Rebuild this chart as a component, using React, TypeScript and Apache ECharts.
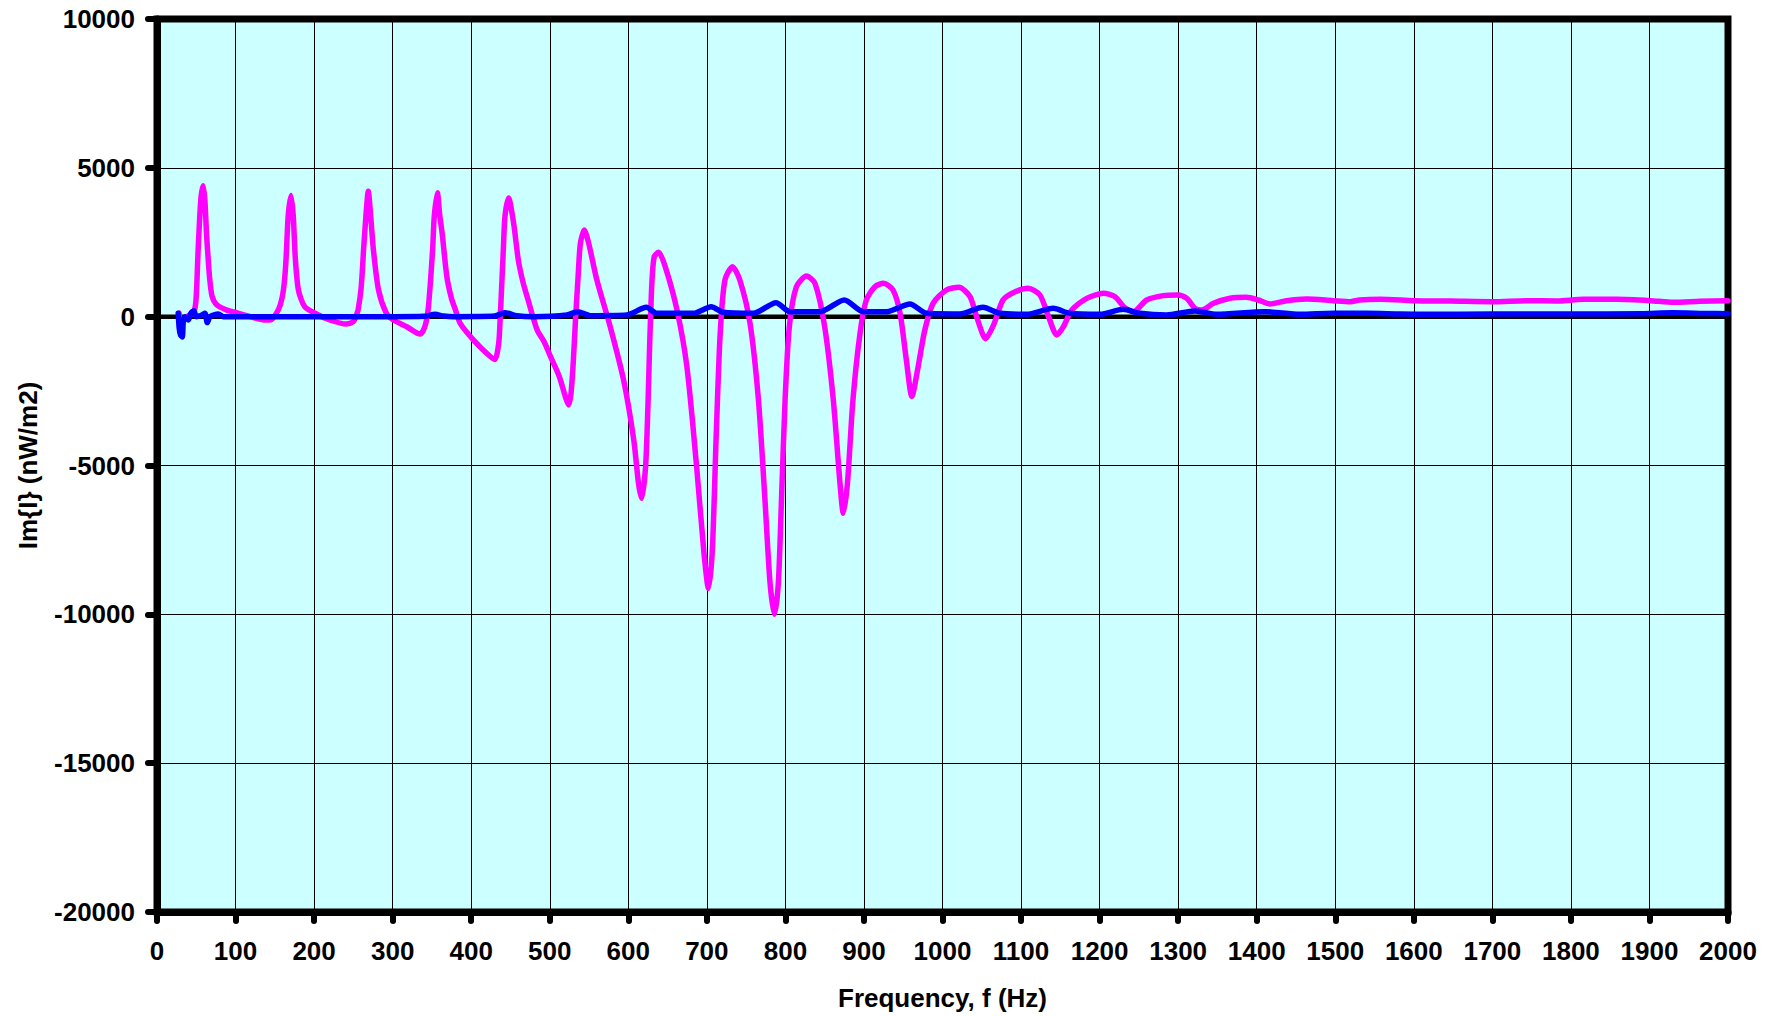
import React, { useEffect, useRef } from "react";
import * as echarts from "echarts";

const magentaFreq = [
  28, 30, 33, 38, 44, 48, 50, 52.4, 55.8, 58.8, 61, 63, 65, 67, 70, 76, 89, 102, 119, 136,
  146, 152, 157, 161, 164, 167, 170.6, 173.5, 176, 180, 188, 203, 220, 241, 250, 253, 256, 260, 263, 266,
  269, 272, 275.5, 282, 292, 301, 318, 335, 341, 345, 348, 351, 353, 357, 360, 363, 369, 375, 380, 386,
  403, 420, 430, 435, 437, 439, 441, 443, 447.6, 454, 460, 466, 472, 484, 493, 501, 512, 520, 524, 527,
  530, 533, 536, 539, 544, 549.6, 560, 577, 594, 607, 613, 617, 622, 625, 627, 630, 633, 638.6, 647, 662,
  674.6, 687, 696, 702, 707, 712, 717, 723, 732.6, 742, 755, 765.7, 774, 780.5, 786, 791, 795, 799.6, 805, 814,
  827, 837.7, 850, 861, 869.5, 873.7, 879, 886, 895, 903, 914, 925, 937, 946, 954, 961, 969, 977.5, 988, 1005,
  1021, 1035, 1044, 1055, 1065, 1077, 1090, 1109, 1124, 1135, 1145.5, 1154, 1164.5, 1183.6, 1205, 1219.7, 1232, 1243, 1260, 1281,
  1300, 1311, 1321.5, 1330, 1345, 1366, 1387, 1402, 1417, 1438, 1463.5, 1497, 1519.5, 1531, 1557.6, 1600, 1646.6, 1700, 1744, 1782,
  1816, 1858.5, 1901, 1930.5, 1964, 2000,
];
const magentaVal = [
  120, -80, -100, 0, 100, 250, 700, 2250, 3934, 4400, 3900, 2800, 2000, 1300, 700, 400, 220, 130, 0, -112,
  -90, 112, 400, 900, 1800, 3372, 4069, 3372, 2000, 900, 337, 90, -112, -247, -169, 0, 225, 1000, 2250, 3400,
  4215, 3400, 2250, 900, 112, -112, -337, -585, -337, 200, 1124, 2300, 3372, 4159, 3400, 2810, 1349, 600, 225, -225,
  -787, -1236, -1439, -900, 0, 1124, 2300, 3372, 3990, 3147, 1900, 1150, 600, -448, -850, -1344, -2000, -2700, -2968, -2600,
  -1500, 0, 1300, 2464, 2912, 2464, 1232, -336, -2128, -4144, -5600, -6104, -5040, -3000, -1120, 1120, 2016, 2162, 1680, 224,
  -1680, -5040, -7840, -9128, -7840, -3920, -560, 1232, 1680, 1232, -224, -2800, -6160, -8960, -10000, -8960, -6160, -2800, -336, 1008,
  1366, 1120, -336, -2800, -5600, -6600, -5600, -2800, -560, 560, 1008, 1120, 896, 112, -1456, -2680, -1680, -448, 448, 896,
  986, 672, -50, -740, -280, 560, 806, 952, 728, 0, -616, -336, 224, 616, 784, 672, 300, 168, 560, 706,
  728, 616, 280, 224, 448, 616, 650, 560, 426, 538, 594, 538, 504, 560, 582, 538, 526, 504, 538, 526,
  582, 582, 538, 482, 515, 538,
];

const blueFreq = [
  27, 28.3, 30, 32.2, 33.6, 35.8, 40, 43, 47, 50, 57, 61, 64, 67.6, 78, 84.5, 150, 300, 340, 354,
  365, 378, 430, 443, 458, 480, 522, 535.6, 551.7, 598, 623, 636, 683, 705.5, 721, 759, 788, 806, 844, 875,
  899, 929, 958.5, 979.7, 1022, 1051.5, 1073, 1107, 1141, 1162, 1200.6, 1230, 1251.5, 1285, 1321.5, 1349, 1410.5, 1455, 1497.5, 1540,
  1582, 1620, 1700, 1800, 1890, 1930, 1970, 2000,
];
const blueVal = [
  112, -392, -616, -680, -112, 0, -112, 112, 200, 0, 56, 112, -200, 0, 90, 0, 0, 0, 10, 78,
  20, 0, 20, 135, 34, 0, 56, 168, 34, 56, 314, 112, 112, 336, 146, 112, 470, 168, 168, 560,
  168, 168, 426, 112, 90, 314, 112, 78, 280, 112, 78, 246, 112, 56, 190, 78, 168, 78, 112, 112,
  90, 80, 90, 90, 100, 130, 110, 100,
];

const zeroFreq = [0, 2000];
const zeroVal = [0, 0];

const xMin = 0;
const xMax = 2000;
const xStep = 100;
const yMin = -20000;
const yMax = 10000;
const yStep = 5000;

const xTitle = "Frequency, f (Hz)";
const yTitle = "Im{I} (nW/m2)";

export default function App() {
  const ref = useRef<HTMLDivElement>(null);
  useEffect(() => {
    if (!ref.current) return;
    const chart = echarts.init(ref.current, null, { renderer: "svg" });
    const font = "'Liberation Sans', Arial, Helvetica, sans-serif";
    const labelStyle = { fontFamily: font, fontWeight: "bold" as const, fontSize: 26, color: "#000" };
    const pair = (xs: number[], ys: number[]) => xs.map((x, i) => [x, ys[i]]);
    const plain = (v: number) => String(v);
    chart.setOption({
      animation: false,
      backgroundColor: "#ffffff",
      grid: {
        left: 157,
        top: 19,
        right: 48,
        bottom: 104,
        show: true,
        backgroundColor: "#CCFFFF",
        borderColor: "#000",
        borderWidth: 7,
      },
      xAxis: {
        type: "value",
        min: xMin,
        max: xMax,
        interval: xStep,
        name: xTitle,
        nameLocation: "middle",
        nameGap: 73,
        nameTextStyle: labelStyle,
        axisLine: { show: true, onZero: false, lineStyle: { color: "#000", width: 7 } },
        axisTick: { show: true, length: 9, lineStyle: { color: "#000", width: 6, cap: "round" } },
        axisLabel: { ...labelStyle, margin: 26, formatter: plain },
        splitLine: { show: true, lineStyle: { color: "#000", width: 1 } },
      },
      yAxis: {
        type: "value",
        min: yMin,
        max: yMax,
        interval: yStep,
        name: yTitle,
        nameLocation: "middle",
        nameGap: 116,
        nameTextStyle: labelStyle,
        axisLine: { show: true, onZero: false, lineStyle: { color: "#000", width: 7 } },
        axisTick: { show: true, length: 9, lineStyle: { color: "#000", width: 6, cap: "round" } },
        axisLabel: { ...labelStyle, margin: 22, formatter: plain },
        splitLine: { show: true, lineStyle: { color: "#000", width: 1 } },
      },
      series: [
        {
          type: "line",
          name: "zero",
          data: pair(zeroFreq, zeroVal),
          symbol: "none",
          silent: true,
          lineStyle: { color: "#000", width: 4.5 },
        },
        {
          type: "line",
          name: "Im{I} A",
          data: pair(magentaFreq, magentaVal),
          symbol: "none",
          smooth: 0.25,
          lineStyle: { color: "#FF00FF", width: 5.5, cap: "round", join: "round" },
        },
        {
          type: "line",
          name: "Im{I} B",
          data: pair(blueFreq, blueVal),
          symbol: "none",
          smooth: 0.25,
          lineStyle: { color: "#0000FF", width: 5.5, cap: "round", join: "round" },
        },
      ],
    });
    return () => chart.dispose();
  }, []);
  return (
    <div
      ref={ref}
      style={{ position: "fixed", left: 0, top: 0, width: 1776, height: 1016 }}
    />
  );
}
